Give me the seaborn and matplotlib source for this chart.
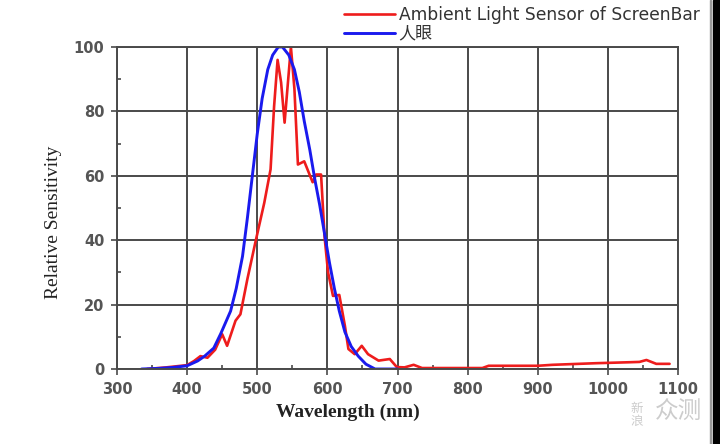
import numpy as np
import pandas as pd
import matplotlib
matplotlib.use("Agg")
import matplotlib.pyplot as plt
from matplotlib.patches import Rectangle
from matplotlib.ticker import MultipleLocator
import seaborn as sns

# ---- data ----
eye_nm = [335, 360, 380, 400, 415, 425, 438, 448, 462, 470, 479, 486, 493, 500,
          507, 515, 522, 530, 536, 545, 553, 560, 567, 575, 582, 589, 596, 603,
          610, 617, 625, 634, 644, 655, 668, 700]
eye_val = [0, 0.2, 0.5, 1, 2.5, 4, 6.5, 11, 18, 25, 35, 47, 60, 73,
           84, 93, 97.5, 100, 100, 97.5, 93, 86, 77, 68, 59, 51, 42, 33,
           25, 18, 11.5, 7, 4, 1.5, 0, 0]

sensor_nm = [343, 370, 400, 410, 419, 429, 440, 450, 457, 469, 476, 486, 498, 510,
             519, 524, 529, 534, 539, 543, 548, 553, 558, 567, 579, 584, 591, 596,
             601, 608, 617, 625, 630, 639, 649, 658, 673, 689, 699, 710, 723, 735,
             760, 800, 821, 830, 900, 921, 983, 1031, 1045, 1055, 1069, 1088]
sensor_val = [0, 0.5, 1.2, 2.5, 4, 3.5, 6, 10.8, 7.2, 15, 17, 28, 40, 51.6,
              62, 81.5, 96, 89, 76.5, 87, 100, 87, 63.5, 64.5, 58, 60.4, 60.4, 41,
              30, 22.7, 23, 13.4, 6.2, 4.6, 7.2, 4.6, 2.6, 3.1, 0.6, 0.5, 1.3, 0.3,
              0.3, 0.3, 0.3, 1.0, 1.0, 1.3, 1.8, 2.1, 2.2, 2.8, 1.6, 1.6]

label_sensor = "Ambient Light Sensor of ScreenBar"
label_eye = "人眼"
x_ticks = [300, 400, 500, 600, 700, 800, 900, 1000, 1100]
y_ticks = [0, 20, 40, 60, 80, 100]

df_sensor = pd.DataFrame({"nm": sensor_nm, "val": sensor_val})
df_eye = pd.DataFrame({"nm": eye_nm, "val": eye_val})

sns.set_theme(style="white")
plt.rcParams["font.family"] = ["DejaVu Sans", "Noto Sans CJK SC"]

fig = plt.figure(figsize=(7.2, 4.44), dpi=100)
ax = fig.add_axes([117 / 720, 1 - 369 / 444, (678 - 117) / 720, (369 - 47) / 444])

sns.lineplot(data=df_sensor, x="nm", y="val", ax=ax, color="#ee1c1c",
             linewidth=1.9, label=label_sensor, legend=False)
sns.lineplot(data=df_eye, x="nm", y="val", ax=ax, color="#1a1aee",
             linewidth=2.1, label=label_eye, legend=False)

ax.set_xlim(300, 1100)
ax.set_ylim(0, 100)
ax.set_xticks(x_ticks)
ax.set_yticks(y_ticks)
ax.xaxis.set_minor_locator(MultipleLocator(50))
ax.yaxis.set_minor_locator(MultipleLocator(10))
ax.set_axisbelow(True)
ax.grid(True, which="major", color="#4a4a4a", linewidth=1.4)
for s in ax.spines.values():
    s.set_color("#4a4a4a")
    s.set_linewidth(1.4)

ax.tick_params(which="major", direction="out", length=4, width=1.2,
               color="#4a4a4a", labelsize=10.5, labelcolor="#555555", pad=5,
               bottom=True, left=True)
ax.tick_params(which="minor", direction="in", length=3, width=1.2,
               color="#4a4a4a", bottom=True, left=True)
for lab in ax.get_xticklabels() + ax.get_yticklabels():
    lab.set_fontweight("bold")

ax.set_xlabel("Wavelength (nm)", family="Liberation Serif", fontweight="bold",
              fontsize=14, color="#222222")
ax.xaxis.set_label_coords((348 - 117) / 561, -(404 - 369) / 322)
ax.set_ylabel("Relative Sensitivity", family="Liberation Serif",
              fontsize=14, color="#222222")
ax.yaxis.set_label_coords((62 - 117) / 561, (369 - 222) / 322)

handles, labels = ax.get_legend_handles_labels()
fig.legend(handles, labels, loc="upper left",
           bbox_to_anchor=(344 / 720, 1 - 6 / 444), frameon=False,
           borderpad=0, borderaxespad=0, handlelength=3.0, handletextpad=0.2,
           labelspacing=0.05,
           prop=dict(family=["DejaVu Sans", "Noto Sans CJK SC"], size=12.3),
           labelcolor="#333333")

# watermark
fig.text(637 / 720, 1 - 415 / 444, "新\n浪", family="Noto Sans CJK SC",
         fontsize=9, color="#cccccc", ha="center", va="center", linespacing=1.0)
fig.text(679 / 720, 1 - 412 / 444, "众测", family="Noto Sans CJK SC",
         fontsize=17, color="#cccccc", ha="center", va="center")

# dark border at right
fig.add_artist(Rectangle((713 / 720, 0), 7 / 720, 1, transform=fig.transFigure,
                         color="black", zorder=10))
fig.add_artist(Rectangle((710 / 720, 0), 1 / 720, 1, transform=fig.transFigure,
                         color="#999999", zorder=10))

fig.savefig("out.png", dpi=100)
